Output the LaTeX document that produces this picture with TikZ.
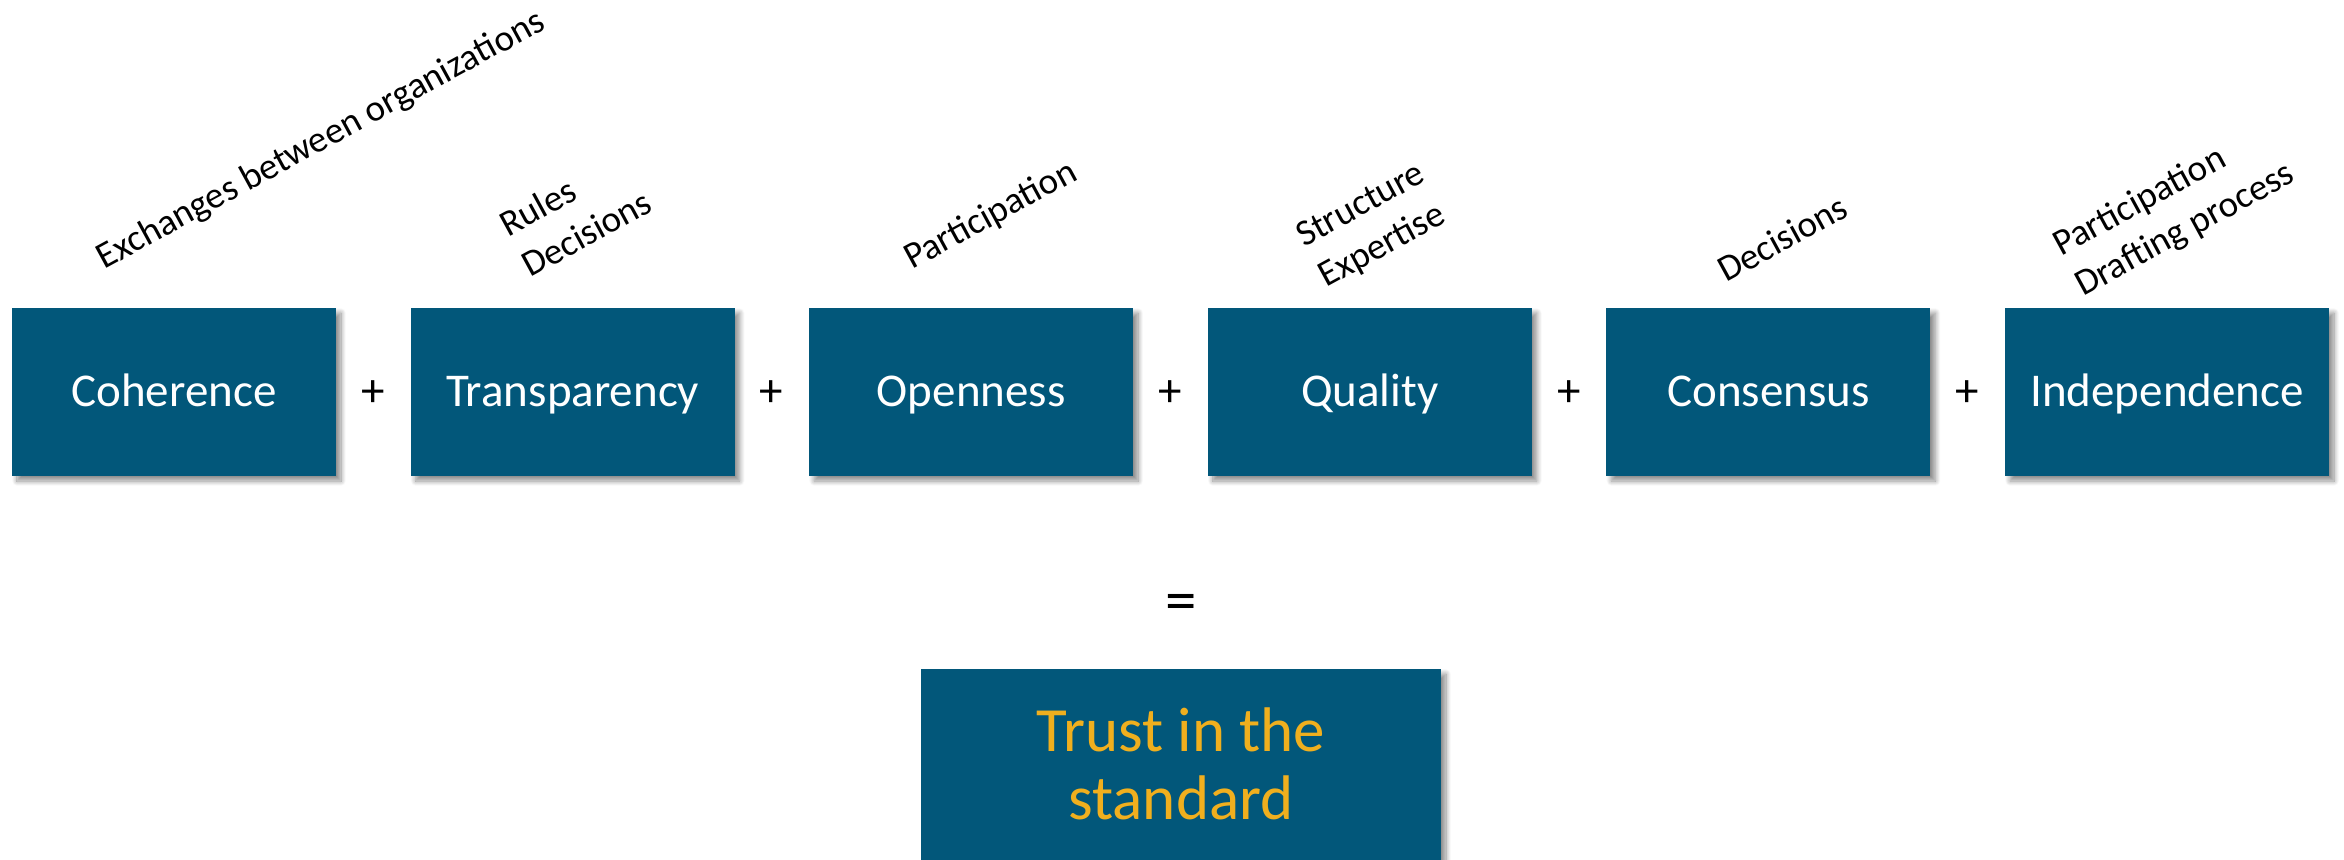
\documentclass[tikz,border=0pt]{standalone}
\usepackage{fontspec}
\setmainfont{Carlito}
\usetikzlibrary{shadows.blur}
\definecolor{boxblue}{RGB}{2,87,122}
\definecolor{trustgold}{RGB}{240,175,30}
\tikzset{
  factor/.style={fill=boxblue, minimum width=324pt, minimum height=168pt, inner sep=0pt, outer sep=0pt,
    blur shadow={shadow xshift=5pt, shadow yshift=-5pt, shadow blur radius=5pt, shadow blur steps=10, shadow opacity=45}},
  factortext/.style={text=white, font=\fontsize{47}{56}\selectfont, anchor=base},
  aspect/.style={rotate=28.6, anchor=base west, align=left, inner sep=0pt, font=\fontsize{37}{46}\selectfont},
  opsign/.style={font=\fontsize{47}{56}\selectfont, inner sep=0pt}
}
\begin{document}
\begin{tikzpicture}[x=1pt, y=-1pt]
\useasboundingbox (0,0) rectangle (2344,859);
% boxes
\node[factor] (coh) at (174,392) {};
\node[factor] (tra) at (572.6,392) {};
\node[factor] (ope) at (971.2,392) {};
\node[factor] (qua) at (1369.8,392) {};
\node[factor] (con) at (1768.4,392) {};
\node[factor] (ind) at (2167,392) {};
\node[factortext] (tcoh) at (174,406) {Coherence};
\node[factortext] (ttra) at (572.6,406) {Transparency};
\node[factortext] (tope) at (971.2,406) {Openness};
\node[factortext] (tqua) at (1369.8,406) {Quality};
\node[factortext] (tcon) at (1768.4,406) {Consensus};
\node[factortext] (tind) at (2167,406) {Independence};
% plus signs
\node[opsign] (p1) at (373,394) {+};
\node[opsign] (p2) at (771.6,394) {+};
\node[opsign] (p3) at (1170.2,394) {+};
\node[opsign] (p4) at (1568.8,394) {+};
\node[opsign] (p5) at (1967.4,394) {+};
% rotated labels (base = baseline of the last line)
\node[aspect] (l1) at (104,270) {Exchanges between organizations};
\node[aspect] (l2) at (530,278) {Rules\\Decisions};
\node[aspect] (l3) at (912,270) {Participation};
\node[aspect] (l4) at (1326,288) {Structure\\Expertise};
\node[aspect] (l5) at (1726,283) {Decisions};
\node[aspect] (l6) at (2083,297) {Participation\\Drafting process};
% equals and result
\node[font=\fontsize{63}{70}\selectfont, inner sep=0pt] (eq) at (1181,608) {=};
\path[fill=boxblue, blur shadow={shadow xshift=5pt, shadow yshift=-5pt, shadow blur radius=5pt, shadow blur steps=10, shadow opacity=45}]
  (921,669) rectangle (1441,900);
\node[text=trustgold, font=\fontsize{63}{68}\selectfont, anchor=base] (trust1) at (1181,751) {Trust in the};
\node[text=trustgold, font=\fontsize{63}{68}\selectfont, anchor=base] (trust2) at (1181,819) {standard};
\end{tikzpicture}
\end{document}
